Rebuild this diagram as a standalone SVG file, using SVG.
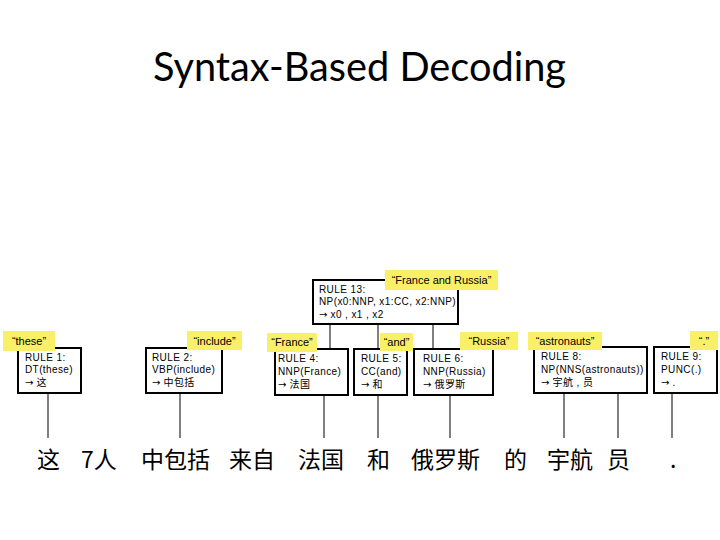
<svg xmlns="http://www.w3.org/2000/svg" width="720" height="540" viewBox="0 0 720 540">
<style>
.box{fill:#fff;stroke:#000;stroke-width:2}
.lbl{fill:#F9F068;stroke:none}
.rt{font-family:"Liberation Sans","Noto Sans CJK SC",sans-serif;font-size:10px;letter-spacing:0.4px;fill:#000}
.ar{font-family:"DejaVu Sans",sans-serif;letter-spacing:0}
.lt{font-family:"Liberation Sans",sans-serif;font-size:11px;fill:#000;text-anchor:middle}
.w{font-family:"Noto Sans CJK SC",sans-serif;font-size:23px;fill:#000}
.c{stroke:#000;stroke-width:1;fill:none}
.title{font-family:Lato,"Open Sans",sans-serif;font-size:40px;fill:#000}
</style>
<rect width="720" height="540" fill="#fff"/>
<text class="title" x="153" y="81" textLength="413" lengthAdjust="spacingAndGlyphs">Syntax-Based Decoding</text>

<g id="connectors">
<line class="c" x1="48" y1="393" x2="48" y2="438"/>
<line class="c" x1="180" y1="393" x2="180" y2="438"/>
<line class="c" x1="324" y1="395" x2="324" y2="438"/>
<line class="c" x1="378" y1="395" x2="378" y2="438"/>
<line class="c" x1="450" y1="395" x2="450" y2="438"/>
<line class="c" x1="564" y1="393" x2="564" y2="438"/>
<line class="c" x1="618" y1="393" x2="618" y2="438"/>
<line class="c" x1="672" y1="393" x2="672" y2="438"/>
<line class="c" x1="330" y1="324" x2="330" y2="349"/>
<line class="c" x1="378" y1="324" x2="378" y2="349"/>
<line class="c" x1="433" y1="324" x2="433" y2="349"/>
</g>

<g id="rule1">
<rect class="box" x="18" y="348" width="63" height="45"/>
<text class="rt" x="25" y="361">RULE 1:</text>
<text class="rt" x="25" y="373">DT(these)</text>
<text class="rt" x="25" y="386"><tspan class="ar">→</tspan> 这</text>
<rect class="lbl" x="3" y="331" width="52" height="20"/>
<text class="lt" x="29" y="345">“these”</text>
</g>

<g id="rule2">
<rect class="box" x="146" y="348" width="76" height="45"/>
<text class="rt" x="152" y="361">RULE 2:</text>
<text class="rt" x="152" y="373">VBP(include)</text>
<text class="rt" x="152" y="386"><tspan class="ar">→</tspan> 中包括</text>
<rect class="lbl" x="187" y="331" width="55" height="19"/>
<text class="lt" x="214.5" y="345">“include”</text>
</g>

<g id="rule13">
<rect class="box" x="313" y="280" width="145" height="44"/>
<text class="rt" x="319" y="293">RULE 13:</text>
<text class="rt" x="319" y="305">NP(x0:NNP, x1:CC, x2:NNP)</text>
<text class="rt" x="319" y="318"><tspan class="ar">→</tspan> x0 , x1 , x2</text>
<rect class="lbl" x="385" y="270" width="113" height="20"/>
<text class="lt" x="441.5" y="284">“France and Russia”</text>
</g>

<g id="rule4">
<rect class="box" x="275" y="349" width="73" height="46"/>
<text class="rt" x="278" y="362">RULE 4:</text>
<text class="rt" x="278" y="375">NNP(France)</text>
<text class="rt" x="278" y="388"><tspan class="ar">→</tspan> 法国</text>
<rect class="lbl" x="267" y="333" width="50" height="19"/>
<text class="lt" x="292" y="346">“France”</text>
</g>

<g id="rule5">
<rect class="box" x="354" y="349" width="53" height="46"/>
<text class="rt" x="361" y="362">RULE 5:</text>
<text class="rt" x="361" y="375">CC(and)</text>
<text class="rt" x="361" y="388"><tspan class="ar">→</tspan> 和</text>
<rect class="lbl" x="380" y="333" width="33" height="18"/>
<text class="lt" x="396.5" y="346">“and”</text>
</g>

<g id="rule6">
<rect class="box" x="414" y="349" width="79" height="46"/>
<text class="rt" x="423" y="362">RULE 6:</text>
<text class="rt" x="423" y="375">NNP(Russia)</text>
<text class="rt" x="423" y="388"><tspan class="ar">→</tspan> 俄罗斯</text>
<rect class="lbl" x="460" y="332" width="58" height="18"/>
<text class="lt" x="489" y="345">“Russia”</text>
</g>

<g id="rule8">
<rect class="box" x="534" y="347" width="113" height="46"/>
<text class="rt" x="541" y="360">RULE 8:</text>
<text class="rt" x="541" y="373">NP(NNS(astronauts))</text>
<text class="rt" x="541" y="386"><tspan class="ar">→</tspan> 宇航 , 员</text>
<rect class="lbl" x="528" y="332" width="74" height="18"/>
<text class="lt" x="565" y="345">“astronauts”</text>
</g>

<g id="rule9">
<rect class="box" x="654" y="347" width="63" height="46"/>
<text class="rt" x="661" y="360">RULE 9:</text>
<text class="rt" x="661" y="373">PUNC(.)</text>
<text class="rt" x="661" y="386"><tspan class="ar">→</tspan> .</text>
<rect class="lbl" x="690" y="331" width="28" height="19"/>
<text class="lt" x="704" y="345">“.”</text>
</g>

<g id="words">
<text class="w" x="37" y="468">这</text>
<text class="w" x="81" y="468">7人</text>
<text class="w" x="141" y="468">中包括</text>
<text class="w" x="229" y="468">来自</text>
<text class="w" x="298" y="468">法国</text>
<text class="w" x="367" y="468">和</text>
<text class="w" x="411" y="468">俄罗斯</text>
<text class="w" x="504" y="468">的</text>
<text class="w" x="547" y="468">宇航</text>
<text class="w" x="607" y="468">员</text>
<text class="w" x="670" y="468">.</text>
</g>
</svg>
